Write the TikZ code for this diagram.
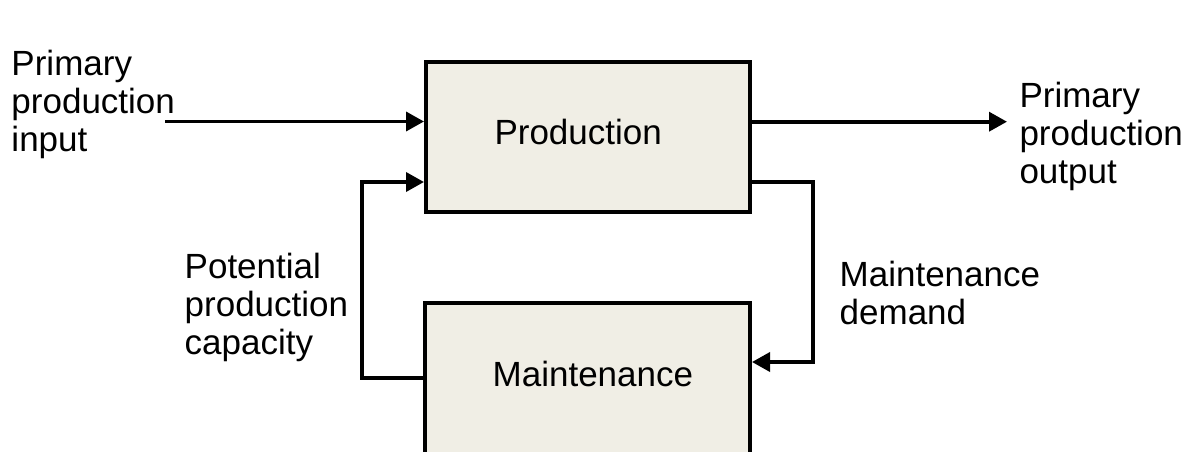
\documentclass[tikz,border=0pt]{standalone}
\usepackage{fontspec}
\setmainfont{Liberation Sans}
\usetikzlibrary{arrows.meta}
\definecolor{boxfill}{RGB}{240,238,229}
\tikzset{
  blk/.style={draw=black, line width=4pt, fill=boxfill, rectangle, inner sep=0pt},
  txt/.style={inner sep=0pt, font=\fontsize{35}{38}\selectfont, align=left},
  flow/.style={line width=3.6pt, -{Triangle[length=18pt,width=19pt]}},
}
\begin{document}
\begin{tikzpicture}[x=1pt,y=-1pt]
  \useasboundingbox (0,0) rectangle (1192,452);
  \clip (0,0) rectangle (1192,452);
  \fill[white] (0,0) rectangle (1192,452);

  % the two blocks
  \node[blk, minimum width=324pt, minimum height=150pt] (prod) at (588,136.7) {};
  \node[blk, minimum width=325pt, minimum height=170pt] (maint) at (587.5,387.7) {};
  \node[txt, anchor=base west] (prodlbl) at (494.3,144) {Production};
  \node[txt, anchor=base west] (maintlbl) at (492.5,386) {Maintenance};

  % side labels
  \node[txt, anchor=north west] (inlbl) at (11.3,50) {Primary\\production\\input};
  \node[txt, anchor=north west] (outlbl) at (1019.3,82) {Primary\\production\\output};
  \node[txt, anchor=north west] (caplbl) at (184.5,253) {Potential\\production\\capacity};
  \node[txt, anchor=north west] (demlbl) at (839.5,261) {Maintenance\\demand};

  % connector corners and free ends
  \coordinate (inpt) at (165,121.5);
  \coordinate (outpt) at (1007,121.7);
  \coordinate (rtop) at (813,182);
  \coordinate (rbot) at (813,362);
  \coordinate (lbot) at (362,378);
  \coordinate (ltop) at (362,182);

  % flows
  \draw[flow] (inpt) -- (prod.west |- inpt);
  \draw[flow] (prod.east |- outpt) -- (outpt);
  \draw[flow] (prod.east |- rtop) -- (rtop) -- (rbot) -- (maint.east |- rbot);
  \draw[flow] (maint.west |- lbot) -- (lbot) -- (ltop) -- (prod.west |- ltop);
\end{tikzpicture}
\end{document}
